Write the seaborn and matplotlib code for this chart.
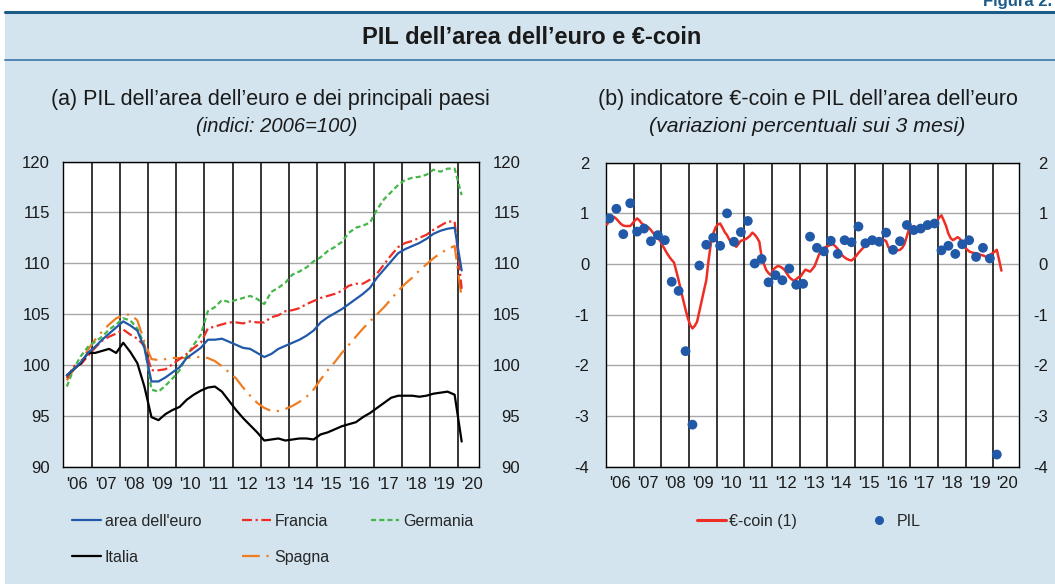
import numpy as np
import pandas as pd
import matplotlib.pyplot as plt
import seaborn as sns
from matplotlib.lines import Line2D
from matplotlib.patches import Rectangle
from matplotlib.transforms import ScaledTranslation

sns.set_theme(style="white")
plt.rcParams['font.family'] = ['Liberation Sans', 'DejaVu Sans']
plt.rcParams['axes.unicode_minus'] = False

# --- DATI ---
# (a) PIL trimestrale, indici 2006=100, 2006T1 - 2020T1
area_euro = [99.0, 99.6, 100.3, 101.2, 101.8, 102.5, 103.1, 103.7,
             104.3, 103.9, 103.4, 101.7, 98.4, 98.4, 98.8, 99.3,
             99.8, 100.7, 101.2, 101.7, 102.5, 102.5, 102.6, 102.3,
             102.0, 101.7, 101.6, 101.2, 100.8, 101.1, 101.6, 101.9,
             102.2, 102.5, 102.9, 103.4, 104.2, 104.7, 105.1, 105.5,
             106.0, 106.5, 107.0, 107.6, 108.6, 109.4, 110.2, 111.0,
             111.4, 111.7, 112.0, 112.4, 112.9, 113.2, 113.4, 113.5, 109.3]
francia = [98.7, 99.9, 100.1, 100.9, 101.7, 102.4, 102.8, 103.1,
           103.5, 103.0, 102.6, 101.9, 99.5, 99.5, 99.6, 100.1,
           100.6, 101.1, 101.7, 102.2, 103.6, 103.8, 104.0, 104.2,
           104.2, 104.1, 104.3, 104.2, 104.2, 104.7, 104.9, 105.3,
           105.4, 105.6, 106.0, 106.3, 106.6, 106.8, 107.0, 107.3,
           107.8, 108.0, 108.0, 108.4, 109.0, 109.9, 110.8, 111.6,
           112.0, 112.2, 112.5, 112.8, 113.3, 113.7, 114.1, 114.1, 107.5]
germania = [97.9, 99.7, 100.9, 101.8, 102.3, 102.8, 103.5, 104.0,
            104.6, 104.4, 103.6, 102.0, 97.6, 97.4, 98.0, 98.7,
            99.5, 100.9, 102.0, 103.0, 105.3, 105.7, 106.4, 106.2,
            106.4, 106.6, 106.8, 106.5, 106.0, 107.2, 107.6, 108.1,
            108.9, 109.2, 109.6, 110.2, 110.6, 111.2, 111.6, 112.1,
            113.0, 113.5, 113.7, 114.0, 115.3, 116.3, 117.0, 117.7,
            118.2, 118.4, 118.5, 118.7, 119.2, 119.0, 119.3, 119.3, 116.7]
italia = [99.0, 99.6, 100.2, 101.2, 101.2, 101.4, 101.6, 101.2,
          102.2, 101.3, 100.2, 97.9, 94.9, 94.6, 95.2, 95.6,
          95.9, 96.6, 97.1, 97.5, 97.8, 97.9, 97.4, 96.5,
          95.6, 94.8, 94.1, 93.4, 92.6, 92.7, 92.8, 92.6,
          92.7, 92.8, 92.8, 92.7, 93.2, 93.4, 93.7, 94.0,
          94.2, 94.4, 94.9, 95.3, 95.8, 96.3, 96.8, 97.0,
          97.0, 97.0, 96.9, 97.0, 97.2, 97.3, 97.4, 97.1, 92.5]
spagna = [98.5, 99.6, 100.4, 101.5, 102.5, 103.3, 104.0, 104.6,
          104.9, 105.0, 104.4, 102.3, 100.6, 100.5, 100.6, 100.7,
          100.7, 100.7, 100.8, 100.8, 100.7, 100.4, 99.9, 99.3,
          98.7, 97.8, 97.0, 96.3, 95.8, 95.5, 95.5, 95.7,
          96.0, 96.4, 96.9, 97.6, 98.6, 99.5, 100.3, 101.2,
          102.0, 102.8, 103.6, 104.3, 105.0, 105.7, 106.5, 107.3,
          108.0, 108.6, 109.3, 109.9, 110.5, 111.0, 111.4, 111.7, 106.6]

# (b) PIL area euro, var. % trimestrale
pil_ea = [0.90, 1.09, 0.59, 1.20, 0.64, 0.70, 0.45, 0.57,
          0.47, -0.35, -0.53, -1.72, -3.17, -0.03, 0.38, 0.52,
          0.36, 1.00, 0.44, 0.63, 0.85, 0.01, 0.10, -0.36,
          -0.22, -0.32, -0.09, -0.41, -0.39, 0.54, 0.32, 0.25,
          0.46, 0.20, 0.47, 0.43, 0.74, 0.41, 0.47, 0.44,
          0.62, 0.28, 0.45, 0.77, 0.67, 0.70, 0.77, 0.80,
          0.27, 0.36, 0.20, 0.39, 0.47, 0.14, 0.32, 0.11, -3.76]

# €-coin mensile, gen 2006 - apr 2020
ecoin = [0.78, 0.88, 0.92, 0.93, 0.89, 0.84, 0.79, 0.76, 0.75, 0.75, 0.75, 0.80,
         0.86, 0.90, 0.86, 0.80, 0.77, 0.74, 0.72, 0.67, 0.61, 0.56, 0.51, 0.46,
         0.37, 0.29, 0.21, 0.14, 0.08, 0.03, -0.14, -0.32, -0.52, -0.71, -0.90, -1.07,
         -1.20, -1.27, -1.22, -1.14, -0.93, -0.71, -0.52, -0.32, 0.08, 0.41, 0.60, 0.72,
         0.78, 0.80, 0.72, 0.63, 0.57, 0.48, 0.42, 0.38, 0.34, 0.40, 0.46, 0.47,
         0.49, 0.52, 0.56, 0.62, 0.58, 0.52, 0.44, 0.14, 0.00, -0.12, -0.18, -0.22,
         -0.11, -0.07, -0.04, -0.05, -0.08, -0.12, -0.19, -0.26, -0.30, -0.33, -0.30, -0.26,
         -0.24, -0.17, -0.11, -0.13, -0.15, -0.10, -0.04, 0.08, 0.20, 0.26, 0.31, 0.34,
         0.36, 0.38, 0.39, 0.35, 0.30, 0.24, 0.17, 0.13, 0.10, 0.08, 0.07, 0.11,
         0.16, 0.22, 0.27, 0.32, 0.36, 0.40, 0.43, 0.45, 0.46, 0.45, 0.44, 0.46,
         0.48, 0.45, 0.33, 0.29, 0.26, 0.26, 0.27, 0.28, 0.32, 0.40, 0.55, 0.70,
         0.72, 0.75, 0.72, 0.68, 0.65, 0.67, 0.70, 0.72, 0.74, 0.77, 0.81, 0.84,
         0.92, 0.96, 0.86, 0.75, 0.60, 0.51, 0.47, 0.50, 0.53, 0.50, 0.42, 0.34,
         0.29, 0.25, 0.23, 0.22, 0.21, 0.20, 0.18, 0.17, 0.15, 0.14, 0.17, 0.21,
         0.24, 0.28, 0.08, -0.13]

year_labels = ["'06", "'07", "'08", "'09", "'10", "'11", "'12", "'13",
               "'14", "'15", "'16", "'17", "'18", "'19", "'20"]

# posizioni temporali (centro trimestre / centro mese)
qx = 2006 + np.arange(len(area_euro)) * 0.25 + 0.125
mx = 2006 + (np.arange(len(ecoin)) + 0.5) / 12
anni = np.arange(2006, 2021)

BG = "#D3E4EE"
BLUE = "#2159A8"
RED = "#EE2E24"
GREEN = "#45B649"
ORANGE = "#EE7D22"
TXT = "#1a1a1a"

W, H = 1055, 584
fig = plt.figure(figsize=(W / 100, H / 100), dpi=100)
fig.patch.set_facecolor("white")

# riquadro di sfondo e barre del titolo
fig.add_artist(Rectangle((5 / W, 0), 1 - 5 / W, 1 - 12 / H, transform=fig.transFigure,
                         facecolor=BG, edgecolor="none", zorder=-10))
fig.add_artist(Line2D([5 / W, 1], [1 - 12 / H] * 2, transform=fig.transFigure,
                      color="#1B5C89", lw=2.2))
fig.add_artist(Line2D([5 / W, 1], [1 - 60 / H] * 2, transform=fig.transFigure,
                      color="#4F86B2", lw=1.4))
fig.text(1052 / W, 1 - 6 / H, "Figura 2.", ha="right", va="baseline",
         fontsize=12, fontweight="bold", color="#1B5C89")
fig.text(532 / W, 1 - 38 / H, "PIL dell’area dell’euro e €-coin", ha="center", va="center",
         fontsize=17, fontweight="bold", color=TXT)

ax1 = fig.add_axes([63.3 / W, 1 - 467 / H, 416 / W, 305.5 / H])
ax2 = fig.add_axes([606 / W, 1 - 466.7 / H, 412.7 / W, 304 / H])

fig.text(270 / W, 1 - 100 / H, "(a) PIL dell’area dell’euro e dei principali paesi",
         ha="center", va="center", fontsize=15.5, color=TXT)
fig.text(277 / W, 1 - 126 / H, "(indici: 2006=100)", ha="center", va="center",
         fontsize=14.5, style="italic", color=TXT)
fig.text(808 / W, 1 - 100 / H, "(b) indicatore €-coin e PIL dell’area dell’euro",
         ha="center", va="center", fontsize=15.5, color=TXT)
fig.text(807 / W, 1 - 126 / H, "(variazioni percentuali sui 3 mesi)", ha="center",
         va="center", fontsize=15.3, style="italic", color=TXT)

LW = 1.6
DASH_FR = (0, (4.5, 1.6, 1, 1.6))
DASH_ES = (0, (8, 3, 1, 3))
DASH_DE = (0, (2.3, 1.4))
styles = {
    "Spagna": (spagna, ORANGE, DASH_ES),
    "Germania": (germania, GREEN, DASH_DE),
    "Francia": (francia, RED, DASH_FR),
    "Italia": (italia, "black", "-"),
    "area dell'euro": (area_euro, BLUE, "-"),
}
for name, (vals, col, ls) in styles.items():
    sns.lineplot(x=qx, y=vals, color=col, lw=LW, linestyle=ls, ax=ax1,
                 estimator=None, sort=False, legend=False, zorder=3)

sns.lineplot(x=mx, y=ecoin, color=RED, lw=1.8, ax=ax2, estimator=None,
             sort=False, legend=False, zorder=3)
sns.scatterplot(x=qx, y=pil_ea, color=BLUE, s=50, edgecolor="none", ax=ax2,
                zorder=4, legend=False)

for ax, yl, yticks, lpad in [(ax1, (90, 120), range(90, 121, 5), 9.5),
                             (ax2, (-4, 2), range(-4, 3), 12)]:
    ax.set_facecolor("white")
    ax.set_xlim(2006, 2020.5)
    ax.set_ylim(*yl)
    ax.set_yticks(list(yticks))
    ax.set_xlabel("")
    ax.set_ylabel("")
    ax.yaxis.grid(True, color="#A8A8A8", lw=1.0)
    ax.xaxis.grid(False)
    ax.set_axisbelow(True)
    for y in anni[1:]:
        ax.axvline(y, color="black", lw=1.1, zorder=1)
    for sp in ax.spines.values():
        sp.set_color("black")
        sp.set_linewidth(1.0)
        sp.set_visible(True)
    ax.tick_params(axis="y", which="both", length=0, labelleft=True, labelright=True,
                   labelsize=12, colors=TXT, pad=lpad)
    ax.set_xticks(anni + 0.5)
    ax.set_xticklabels(year_labels)
    ax.tick_params(axis="x", which="major", direction="in", length=4, width=0.8,
                   labelsize=12, pad=7, colors="black", labelcolor=TXT)

# etichette di destra allineate a destra
for ax, rpad in [(ax1, 29.5), (ax2, 21)]:
    for t in ax.yaxis.get_major_ticks():
        t.label2.set_horizontalalignment("right")
        t.label2.set_transform(ax.get_yaxis_transform(which="tick2") +
                               ScaledTranslation(rpad / 72, 0, fig.dpi_scale_trans))

ax1.set_xticks(np.concatenate([anni + 0.25, anni + 0.75]), minor=True)
ax1.tick_params(axis="x", which="minor", direction="in", length=4, width=0.8)
ax2.set_xticks(np.array([y + m / 12 for y in anni for m in range(1, 12) if m != 6]), minor=True)
ax2.tick_params(axis="x", which="major", length=5)
ax2.tick_params(axis="x", which="minor", direction="in", length=3, width=0.7)

# legende
h1 = [Line2D([], [], color=BLUE, lw=LW),
      Line2D([], [], color="black", lw=LW),
      Line2D([], [], color=RED, lw=LW, linestyle=DASH_FR),
      Line2D([], [], color=ORANGE, lw=LW, linestyle=DASH_ES),
      Line2D([], [], color=GREEN, lw=LW, linestyle=DASH_DE)]
l1 = ["area dell'euro", "Italia", "Francia", "Spagna", "Germania"]
ax1.legend(h1, l1, ncol=3, loc="upper left", bbox_to_anchor=(72 / W, 1 - 514 / H),
           bbox_transform=fig.transFigure, frameon=False, fontsize=11.5,
           handlelength=1.8, handletextpad=0.25, columnspacing=2.55,
           labelspacing=1.3, borderpad=0, borderaxespad=0)

h2 = [Line2D([], [], color=RED, lw=2.2),
      Line2D([], [], color=BLUE, marker="o", linestyle="none", markersize=6.5,
             markeredgewidth=0)]
ax2.legend(h2, ["€-coin (1)", "PIL"], ncol=2, loc="upper left",
           bbox_to_anchor=(697 / W, 1 - 514 / H), bbox_transform=fig.transFigure,
           frameon=False, fontsize=11.5, handlelength=1.8, handletextpad=0.2,
           columnspacing=4.25, borderpad=0, borderaxespad=0)

fig.savefig("out.png", dpi=100, facecolor=fig.get_facecolor())
